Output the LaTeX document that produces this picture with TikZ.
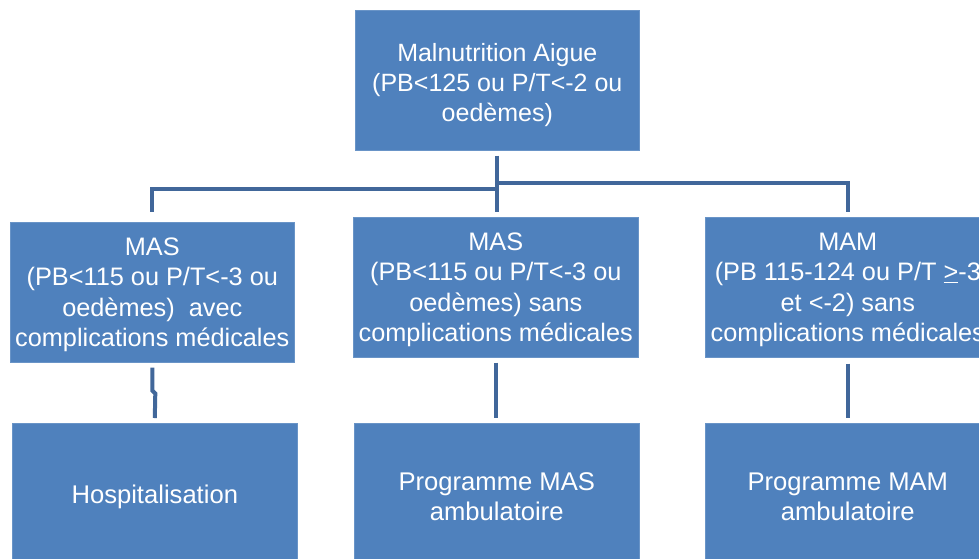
\documentclass[tikz,border=0pt]{standalone}
\usepackage{fontspec}
\setmainfont{Liberation Sans}
\definecolor{boxblue}{HTML}{4F81BD}
\definecolor{linkblue}{HTML}{41679A}
\newcommand{\upstrut}[1]{\rule{0pt}{#1}}
\begin{document}
\begin{tikzpicture}[x=1pt,y=-1pt,
  box/.style={fill=boxblue, draw=boxblue!85!white, line width=0.6pt, minimum width=285pt, minimum height=140pt,
    inner sep=0pt, align=center, text=white, anchor=north west},
  toptext/.style={font=\fontsize{25}{30}\selectfont},
  midtext/.style={font=\fontsize{25.3}{30.6}\selectfont},
  bottext/.style={font=\fontsize{25.6}{30.5}\selectfont},
  conn/.style={draw=linkblue, line width=4pt}]
\useasboundingbox (0,0) rectangle (979,558);
\clip (0,0) rectangle (979,558);
\node[box, toptext, minimum width=284pt] (top) at (355,10) {\upstrut{28pt}Malnutrition Aigue\\(PB<125 ou P/T<-2 ou\\oedèmes)};
\node[box, midtext, minimum width=284pt] (left) at (10,222) {\upstrut{22.5pt}MAS\\(PB<115 ou P/T<-3 ou\\oedèmes)\ \ avec\\complications médicales};
\node[box, midtext] (mid) at (353,217) {\upstrut{22.5pt}MAS\\(PB<115 ou P/T<-3 ou\\oedèmes) sans\\complications médicales};
\node[box, midtext] (right) at (705,217) {\upstrut{22.5pt}MAM\\(PB 115-124 ou P/T \underline{>}-3\\et <-2) sans\\complications médicales};
\node[box, bottext] (hosp) at (12,423) {\upstrut{26.5pt}Hospitalisation};
\node[box, bottext] (pmas) at (354,423) {\upstrut{24.5pt}Programme MAS\\ambulatoire};
\node[box, bottext] (pmam) at (705,423) {\upstrut{24.5pt}Programme MAM\\ambulatoire};
\coordinate (hl) at (0,189);
\coordinate (hr) at (0,183);
\draw[conn] ([yshift=-5pt]top.south) -- ([yshift=5pt]top.south |- mid.north);
\draw[conn] (top.south |- hl) -| ([yshift=10pt]left.north);
\draw[conn] (top.south |- hr) -| ([yshift=5pt]right.north);
\draw[conn] ([yshift=-5pt]left.south) -- ++(0,23) -- ++(3,3) -- ([yshift=5pt]hosp.north);
\draw[conn] ([yshift=-5pt]mid.south) -- ([yshift=5pt]mid.south |- pmas.north);
\draw[conn] ([yshift=-6pt]right.south) -- ([yshift=5pt]right.south |- pmam.north);
\end{tikzpicture}
\end{document}
